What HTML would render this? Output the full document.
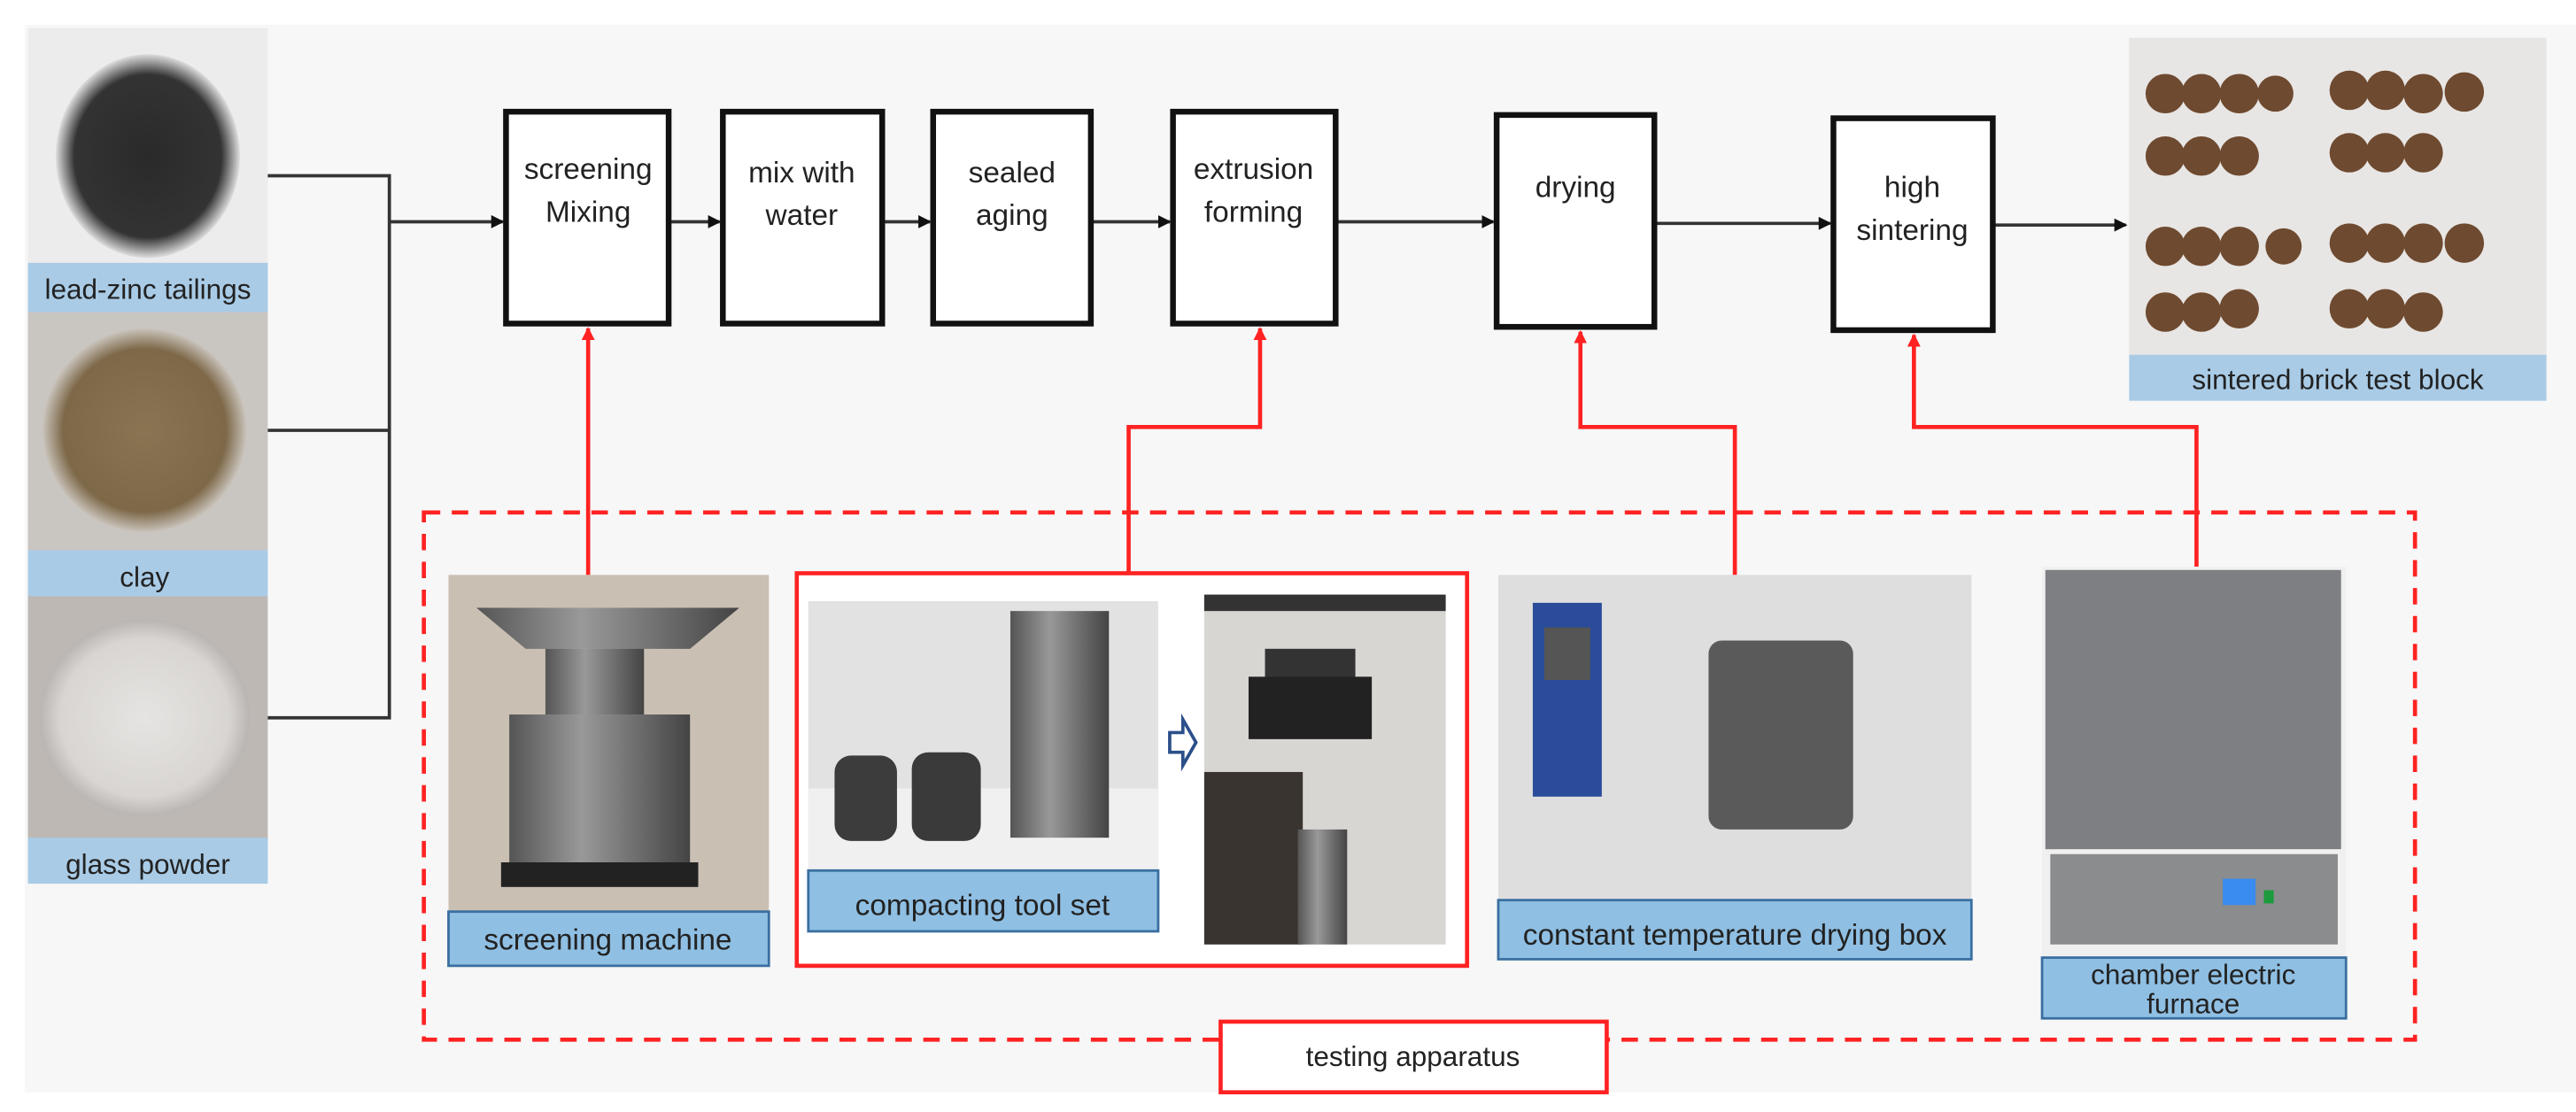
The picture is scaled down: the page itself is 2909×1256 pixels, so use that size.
<!DOCTYPE html>
<html><head><meta charset="utf-8"><style>
html,body{margin:0;padding:0;background:#fff;}
svg{display:block;}
text{font-family:"Liberation Sans",sans-serif;fill:#222;}
</style></head><body>
<svg width="2909" height="1256" viewBox="0 0 1568 677" xmlns="http://www.w3.org/2000/svg">
<defs>
<radialGradient id="blk" cx="50%" cy="50%" r="50%"><stop offset="0" stop-color="#2a2a2a"/><stop offset="0.8" stop-color="#333"/><stop offset="1" stop-color="#ddd"/></radialGradient>
<radialGradient id="cly" cx="50%" cy="50%" r="50%"><stop offset="0" stop-color="#8a7452"/><stop offset="0.8" stop-color="#7d6848"/><stop offset="1" stop-color="#c9c3bb"/></radialGradient>
<radialGradient id="gls" cx="50%" cy="50%" r="50%"><stop offset="0" stop-color="#e6e4e2"/><stop offset="0.8" stop-color="#d8d5d2"/><stop offset="1" stop-color="#b9b5b2"/></radialGradient>
<linearGradient id="met" x1="0" x2="1"><stop offset="0" stop-color="#555"/><stop offset="0.4" stop-color="#999"/><stop offset="1" stop-color="#444"/></linearGradient>
<marker id="ab" markerWidth="8" markerHeight="8" refX="7" refY="4" orient="auto" markerUnits="userSpaceOnUse"><path d="M0,0 L8,4 L0,8z" fill="#111"/></marker>
<marker id="ar" markerWidth="8" markerHeight="8" refX="7" refY="4" orient="auto" markerUnits="userSpaceOnUse"><path d="M0,0 L8,4 L0,8z" fill="#f22"/></marker>
</defs>
<rect x="15" y="15" width="1553" height="650" fill="#f7f7f7"/>
<!-- raw materials -->
<rect x="17" y="17" width="146" height="145" fill="#ececec"/>
<ellipse cx="90" cy="95" rx="56" ry="62" fill="url(#blk)"/>
<rect x="17" y="160" width="146" height="30" fill="#a9cbe6"/>
<text x="90" y="182" font-size="17" text-anchor="middle">lead-zinc tailings</text>
<rect x="17" y="190" width="146" height="145" fill="#c9c5c0"/>
<ellipse cx="88" cy="262" rx="62" ry="62" fill="url(#cly)"/>
<rect x="17" y="335" width="146" height="28" fill="#a9cbe6"/>
<text x="88" y="357" font-size="17" text-anchor="middle">clay</text>
<rect x="17" y="363" width="146" height="148" fill="#bdb8b4"/>
<ellipse cx="88" cy="437" rx="64" ry="60" fill="url(#gls)"/>
<rect x="17" y="510" width="146" height="28" fill="#a9cbe6"/>
<text x="90" y="532" font-size="17" text-anchor="middle">glass powder</text>
<!-- black connectors -->
<g stroke="#333" stroke-width="2" fill="none">
<path d="M163,107 H237 V437 H163"/><path d="M163,262 H237"/>
<path d="M237,135 H306" marker-end="url(#ab)"/>
<path d="M407,135 H438" marker-end="url(#ab)"/>
<path d="M537,135 H566" marker-end="url(#ab)"/>
<path d="M664,135 H712" marker-end="url(#ab)"/>
<path d="M813,135 H909" marker-end="url(#ab)"/>
<path d="M1007,136 H1114" marker-end="url(#ab)"/>
<path d="M1213,137 H1294" marker-end="url(#ab)"/>
</g>
<g stroke="#111" stroke-width="3.5" fill="#fff">
<rect x="308" y="68" width="99" height="129"/>
<rect x="440" y="68" width="97" height="129"/>
<rect x="568" y="68" width="96" height="129"/>
<rect x="714" y="68" width="99" height="129"/>
<rect x="911" y="70" width="96" height="129"/>
<rect x="1116" y="72" width="97" height="129"/>
</g>
<g font-size="18" text-anchor="middle">
<text x="358" y="109">screening</text><text x="358" y="135">Mixing</text>
<text x="488" y="111">mix with</text><text x="488" y="137">water</text>
<text x="616" y="111">sealed</text><text x="616" y="137">aging</text>
<text x="763" y="109">extrusion</text><text x="763" y="135">forming</text>
<text x="959" y="120">drying</text>
<text x="1164" y="120">high</text><text x="1164" y="146">sintering</text>
</g>
<!-- sintered bricks -->
<rect x="1296" y="23" width="254" height="195" fill="#e8e6e4"/>
<g fill="#6e4a30">
<circle cx="1318" cy="57" r="12"/><circle cx="1340" cy="57" r="12"/><circle cx="1363" cy="57" r="12"/><circle cx="1385" cy="57" r="11"/>
<circle cx="1430" cy="55" r="12"/><circle cx="1452" cy="55" r="12"/><circle cx="1475" cy="57" r="12"/><circle cx="1500" cy="56" r="12"/>
<circle cx="1318" cy="95" r="12"/><circle cx="1340" cy="95" r="12"/><circle cx="1363" cy="95" r="12"/>
<circle cx="1430" cy="93" r="12"/><circle cx="1452" cy="93" r="12"/><circle cx="1475" cy="93" r="12"/>
<circle cx="1318" cy="150" r="12"/><circle cx="1340" cy="150" r="12"/><circle cx="1363" cy="150" r="12"/><circle cx="1390" cy="150" r="11"/>
<circle cx="1430" cy="148" r="12"/><circle cx="1452" cy="148" r="12"/><circle cx="1475" cy="148" r="12"/><circle cx="1500" cy="148" r="12"/>
<circle cx="1318" cy="190" r="12"/><circle cx="1340" cy="190" r="12"/><circle cx="1363" cy="188" r="12"/>
<circle cx="1430" cy="188" r="12"/><circle cx="1452" cy="188" r="12"/><circle cx="1475" cy="190" r="12"/>
</g>
<rect x="1296" y="216" width="254" height="28" fill="#a9cbe6"/>
<text x="1423" y="237" font-size="17" text-anchor="middle">sintered brick test block</text>
<!-- red connectors -->
<g stroke="#f22" stroke-width="2.5" fill="none">
<path d="M358,350 V200" marker-end="url(#ar)"/>
<path d="M687,350 V260 H767 V200" marker-end="url(#ar)"/>
<path d="M1056,350 V260 H962 V202" marker-end="url(#ar)"/>
<path d="M1337,345 V260 H1165 V204" marker-end="url(#ar)"/>
</g>
<rect x="258" y="312" width="1212" height="321" fill="none" stroke="#f22" stroke-width="2.5" stroke-dasharray="10,7"/>
<!-- screening machine -->
<rect x="273" y="350" width="195" height="205" fill="#c9bfb3"/>
<path d="M290,370 H450 L420,395 H320z" fill="url(#met)"/>
<rect x="332" y="395" width="60" height="40" fill="url(#met)"/>
<rect x="310" y="435" width="110" height="95" fill="url(#met)"/>
<rect x="305" y="525" width="120" height="15" fill="#222"/>
<rect x="273" y="555" width="195" height="33" fill="#8fbfe3" stroke="#3a6fa0" stroke-width="1.5"/>
<text x="370" y="578" font-size="18" text-anchor="middle">screening machine</text>
<!-- compacting -->
<rect x="485" y="349" width="408" height="239" fill="#fff" stroke="#f22" stroke-width="2.5"/>
<rect x="492" y="366" width="213" height="164" fill="#e2e2e2"/>
<rect x="492" y="480" width="213" height="50" fill="#f0f0f0"/>
<rect x="508" y="460" width="38" height="52" rx="10" fill="#3c3c3c"/>
<rect x="555" y="458" width="42" height="54" rx="10" fill="#3a3a3a"/>
<rect x="615" y="372" width="60" height="138" fill="url(#met)"/>
<rect x="492" y="530" width="213" height="37" fill="#8fbfe3" stroke="#3a6fa0" stroke-width="1.5"/>
<text x="598" y="557" font-size="18" text-anchor="middle">compacting tool set</text>
<path d="M712,446 H720 V438 L728,452 L720,466 V458 H712z" fill="#fff" stroke="#2b4f8a" stroke-width="2"/>
<rect x="733" y="362" width="147" height="213" fill="#d8d6d2"/>
<rect x="733" y="362" width="147" height="10" fill="#333"/>
<rect x="770" y="395" width="55" height="20" fill="#333"/>
<rect x="760" y="412" width="75" height="38" fill="#222"/>
<rect x="733" y="470" width="60" height="105" fill="#3a3430"/>
<rect x="790" y="505" width="30" height="70" fill="url(#met)"/>
<!-- drying box -->
<rect x="912" y="350" width="288" height="198" fill="#dedede"/>
<rect x="933" y="367" width="42" height="118" fill="#2a4c9a"/>
<rect x="940" y="382" width="28" height="32" fill="#555"/>
<rect x="1040" y="390" width="88" height="115" rx="8" fill="#5a5a5a"/>
<rect x="912" y="548" width="288" height="36" fill="#8fbfe3" stroke="#3a6fa0" stroke-width="1.5"/>
<text x="1056" y="575" font-size="18" text-anchor="middle">constant temperature drying box</text>
<!-- furnace -->
<rect x="1243" y="345" width="185" height="240" fill="#f0f0f0"/>
<rect x="1245" y="347" width="180" height="170" fill="#7d7f82"/>
<rect x="1248" y="520" width="175" height="55" fill="#8a8c8e"/>
<rect x="1353" y="535" width="20" height="16" fill="#3a8cf0"/>
<rect x="1378" y="542" width="6" height="8" fill="#1c9a3c"/>
<rect x="1243" y="583" width="185" height="37" fill="#8fbfe3" stroke="#3a6fa0" stroke-width="1.5"/>
<text x="1335" y="599" font-size="17" text-anchor="middle">chamber electric</text>
<text x="1335" y="617" font-size="17" text-anchor="middle">furnace</text>
<!-- testing apparatus -->
<rect x="743" y="622" width="235" height="43" fill="#fff" stroke="#f22" stroke-width="2.5"/>
<text x="860" y="649" font-size="17" text-anchor="middle">testing apparatus</text>
</svg>
</body></html>
